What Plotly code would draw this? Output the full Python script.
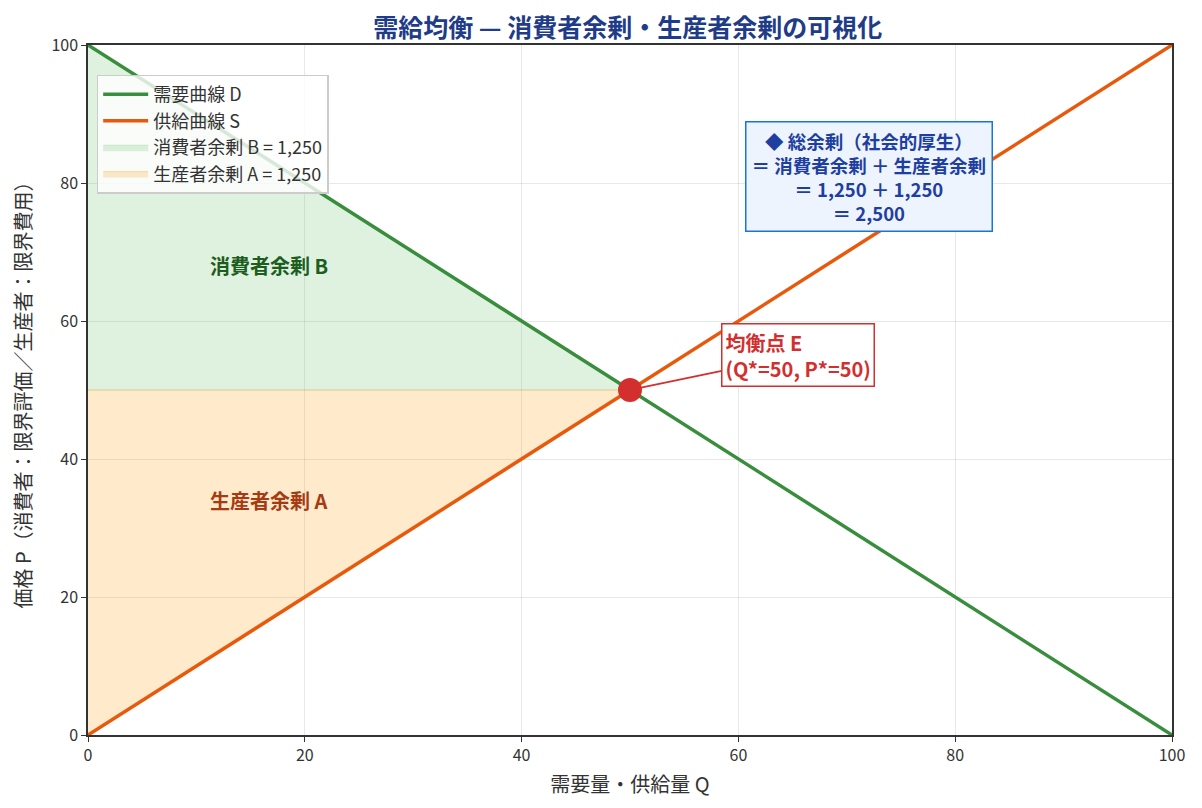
"""需給均衡: 消費者余剰・生産者余剰の可視化"""

import plotly.graph_objects as go

FONT = "Noto Sans CJK JP"

# データ
q_line = [0, 100]
demand_p = [100, 0]
supply_p = [0, 100]
eq_q = [50]
eq_p = [50]
cs_q = [0, 50, 0]
cs_p = [100, 50, 50]
ps_q = [0, 50, 0]
ps_p = [0, 50, 50]
x_ticks = [0, 20, 40, 60, 80, 100]
y_ticks = [0, 20, 40, 60, 80, 100]


def main():
    """main"""
    fig = go.Figure()

    # 余剰の塗りつぶし
    fig.add_trace(go.Scatter(x=cs_q, y=cs_p, fill="toself", mode="lines",
                             line=dict(width=1, color="rgba(76,175,80,0.2)"),
                             fillcolor="rgba(76,175,80,0.18)",
                             name="消費者余剰 B = 1,250", legendrank=3,
                             hoverinfo="skip"))
    fig.add_trace(go.Scatter(x=ps_q, y=ps_p, fill="toself", mode="lines",
                             line=dict(width=1, color="rgba(255,152,0,0.25)"),
                             fillcolor="rgba(255,152,0,0.2)",
                             name="生産者余剰 A = 1,250", legendrank=4,
                             hoverinfo="skip"))

    # 需要・供給曲線
    fig.add_trace(go.Scatter(x=q_line, y=demand_p, mode="lines",
                             line=dict(color="#388e3c", width=3.5),
                             name="需要曲線 D", legendrank=1))
    fig.add_trace(go.Scatter(x=q_line, y=supply_p, mode="lines",
                             line=dict(color="#e8590c", width=3.5),
                             name="供給曲線 S", legendrank=2))

    # 均衡点
    fig.add_trace(go.Scatter(x=eq_q, y=eq_p, mode="markers",
                             marker=dict(color="#d32f2f", size=24),
                             showlegend=False))

    fig.add_annotation(x=50, y=50, ax=65.5, ay=55.1, axref="x", ayref="y",
                       text="<b>均衡点 E<br>(Q*=50, P*=50)</b>",
                       align="left", showarrow=True, arrowhead=0,
                       arrowwidth=1.8, arrowcolor="#d32f2f", standoff=10,
                       font=dict(family=FONT, size=20, color="#d32f2f"),
                       bgcolor="white", bordercolor="#d32f2f",
                       borderwidth=1.5, borderpad=3)

    fig.add_annotation(x=72.05, y=80.9, xref="x", yref="y",
                       text="<b>◆ 総余剰（社会的厚生）<br>＝ 消費者余剰 ＋ 生産者余剰"
                            "<br>＝ 1,250 ＋ 1,250<br>＝ 2,500</b>",
                       align="center", showarrow=False,
                       font=dict(family=FONT, size=18.5, color="#1e3fa0"),
                       bgcolor="#edf4fd", bordercolor="#1976d2",
                       borderwidth=1.5, borderpad=5)

    fig.add_annotation(x=16.67, y=68, text="<b>消費者余剰 B</b>",
                       showarrow=False,
                       font=dict(family=FONT, size=20, color="#1b5e20"))
    fig.add_annotation(x=16.67, y=34, text="<b>生産者余剰 A</b>",
                       showarrow=False,
                       font=dict(family=FONT, size=20, color="#a63a12"))

    axis_style = dict(showline=True, linecolor="#333333", linewidth=1.5,
                      mirror=True, ticks="outside", ticklen=5,
                      tickcolor="#333333", showgrid=True,
                      gridcolor="rgba(0,0,0,0.09)", zeroline=False,
                      tickfont=dict(family=FONT, size=16, color="#333333"))

    # ページ余白 (8px) を差し引いた寸法
    fig.update_layout(
        width=1194, height=800,
        margin=dict(l=80, r=30, t=37, b=73),
        paper_bgcolor="white", plot_bgcolor="white",
        font=dict(family=FONT, color="#333333"),
        title=dict(text="<b>需給均衡 — 消費者余剰・生産者余剰の可視化</b>",
                   x=0.519, xanchor="center", y=0.975, yanchor="middle",
                   font=dict(family=FONT, size=25, color="#1f3c88")),
        xaxis=dict(range=[0, 100], tickvals=x_ticks,
                   title=dict(text="需要量・供給量 Q", standoff=13,
                              font=dict(family=FONT, size=20, color="#333333")),
                   **axis_style),
        yaxis=dict(range=[0, 100], tickvals=y_ticks,
                   title=dict(text="価格 P（消費者：限界評価／生産者：限界費用）",
                              standoff=18,
                              font=dict(family=FONT, size=20, color="#333333")),
                   **axis_style),
        legend=dict(x=0.008, y=0.957, xanchor="left", yanchor="top",
                    bgcolor="rgba(255,255,255,0.8)", bordercolor="#cccccc",
                    borderwidth=1.5, itemwidth=45,
                    font=dict(family=FONT, size=18, color="#333333")),
    )

    fig.write_html("out.html")


if __name__ == "__main__":
    main()
